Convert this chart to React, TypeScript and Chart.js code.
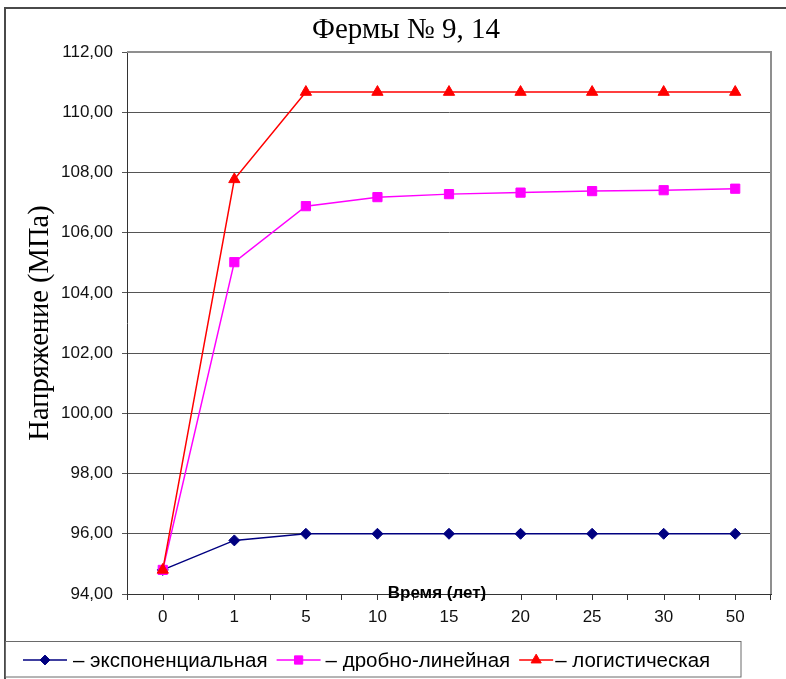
import React, { useEffect, useRef } from 'react';
import { Chart, registerables } from 'chart.js';
import { drawPoint } from 'chart.js/helpers';

Chart.register(...registerables);

const categories = ['0', '1', '5', '10', '15', '20', '25', '30', '50'];
const exponential = [94.8, 95.78, 96.0, 96.0, 96.0, 96.0, 96.0, 96.0, 96.0];
const fractionalLinear = [94.8, 105.02, 106.88, 107.18, 107.28, 107.33, 107.38, 107.41, 107.46];
const logistic = [94.8, 107.77, 110.67, 110.67, 110.67, 110.67, 110.67, 110.67, 110.67];
const seriesNames = ['– экспоненциальная', '– дробно-линейная', '– логистическая'];
const chartTitle = 'Фермы № 9, 14';
const yTitle = 'Напряжение (МПа)';
const xTitle = 'Время (лет)';
const yMin = 94;
const yMax = 112;
const yStep = 2;

const SANS = '"Liberation Sans", Arial, sans-serif';
const SERIF = '"Liberation Serif", "Times New Roman", serif';

// legend key geometry (line length, gap to text)
const legendKeyLen = [44, 44, 34];
const legendKeyGap = [6, 5, 2];

const decorPlugin = {
  id: 'decor',
  beforeDatasetsDraw(chart: any) {
    const { ctx, chartArea: a } = chart;
    ctx.save();
    ctx.strokeStyle = '#8f8f8f';
    ctx.lineWidth = 2;
    ctx.beginPath();
    ctx.moveTo(a.left, a.top);
    ctx.lineTo(a.right, a.top);
    ctx.lineTo(a.right, a.bottom);
    ctx.stroke();
    ctx.restore();
  },
  afterDraw(chart: any) {
    const { ctx, chartArea: a } = chart;
    const xs = chart.scales.x;
    ctx.save();
    // tick marks at category centres
    ctx.strokeStyle = '#333';
    ctx.lineWidth = 1;
    ctx.beginPath();
    for (let i = 0; i < categories.length; i++) {
      const px = Math.round(xs.getPixelForValue(i)) + 0.5;
      ctx.moveTo(px, a.bottom);
      ctx.lineTo(px, a.bottom + 6);
    }
    ctx.stroke();

    // x axis title (sits on the axis line)
    ctx.fillStyle = '#000';
    ctx.font = 'bold 17px ' + SANS;
    ctx.textAlign = 'center';
    ctx.textBaseline = 'middle';
    ctx.fillText(xTitle, 437, a.bottom - 1);

    // chart title
    ctx.font = '29px ' + SERIF;
    ctx.fillText(chartTitle, 406, 30);

    // outer frame
    ctx.strokeStyle = '#4a4a4a';
    ctx.lineWidth = 2;
    ctx.beginPath();
    ctx.moveTo(786, 8);
    ctx.lineTo(5, 8);
    ctx.lineTo(5, 679);
    ctx.stroke();

    // legend box
    ctx.strokeStyle = '#6a6a6a';
    ctx.lineWidth = 1;
    ctx.strokeRect(5.5, 641.5, 735.5, 35.5);

    // legend items
    const ly = 660;
    let x = 23;
    ctx.font = '20.5px ' + SANS;
    ctx.textAlign = 'left';
    chart.data.datasets.forEach((ds: any, i: number) => {
      const len = legendKeyLen[i];
      ctx.strokeStyle = ds.borderColor;
      ctx.lineWidth = 1.5;
      ctx.beginPath();
      ctx.moveTo(x, ly);
      ctx.lineTo(x + len, ly);
      ctx.stroke();
      ctx.fillStyle = ds.pointBackgroundColor;
      ctx.strokeStyle = ds.pointBorderColor;
      ctx.lineWidth = 1;
      drawPoint(ctx, { pointStyle: ds.pointStyle, radius: ds.pointRadius * 0.9, borderWidth: 1, rotation: 0 }, x + len / 2, ly);
      ctx.fillStyle = '#000';
      const tx = x + len + legendKeyGap[i];
      ctx.fillText(seriesNames[i], tx, ly + 1);
      x = tx + ctx.measureText(seriesNames[i]).width + 9;
    });
    ctx.restore();
  },
};

export default function App() {
  const ref = useRef<HTMLCanvasElement>(null);
  useEffect(() => {
    if (!ref.current) return;
    const mk = (label: string, data: number[], color: string, style: string, r: number, order: number) => ({
      label,
      data,
      borderColor: color,
      backgroundColor: color,
      pointBackgroundColor: color,
      pointBorderColor: color,
      pointStyle: style,
      pointRadius: r,
      pointBorderWidth: 1,
      borderWidth: 1.5,
      tension: 0,
      order,
    });
    const chart = new Chart(ref.current, {
      type: 'line',
      data: {
        labels: categories,
        datasets: [
          mk(seriesNames[0], exponential, '#000080', 'rectRot', 5.5, 3),
          mk(seriesNames[1], fractionalLinear, '#ff00ff', 'rect', 6.5, 2),
          mk(seriesNames[2], logistic, '#ff0000', 'triangle', 6.5, 1),
        ],
      },
      options: {
        responsive: false,
        animation: false,
        devicePixelRatio: 1,
        layout: { padding: { left: 5, right: 15, top: 52, bottom: 0 } },
        plugins: {
          legend: { display: false },
          title: { display: false },
          tooltip: { enabled: false },
        },
        scales: {
          x: {
            type: 'category',
            offset: true,
            grid: { offset: true, drawOnChartArea: false, tickLength: 6, color: '#333' },
            border: { color: '#333', width: 1 },
            ticks: {
              font: { family: SANS, size: 17 },
              color: '#111',
              padding: 7,
              maxRotation: 0,
              autoSkip: false,
            },
            afterFit(s: any) {
              s.height = 85;
            },
          },
          y: {
            min: yMin,
            max: yMax,
            ticks: {
              stepSize: yStep,
              font: { family: SANS, size: 17 },
              color: '#111',
              padding: 9,
              callback: (v: any) => Number(v).toFixed(2).replace('.', ','),
            },
            grid: { color: '#555', tickLength: 5 },
            border: { color: '#333', width: 1 },
            title: {
              display: true,
              text: yTitle,
              font: { family: SERIF, size: 28.5 },
              color: '#000',
              padding: { top: 18, bottom: 0 },
            },
            afterFit(s: any) {
              s.width = 122;
            },
          },
        },
      },
      plugins: [decorPlugin],
    } as any);
    return () => chart.destroy();
  }, []);
  return (
    <div style={{ position: 'absolute', left: 0, top: 0, width: 786, height: 679 }}>
      <canvas ref={ref} width={786} height={679} style={{ display: 'block' }} />
    </div>
  );
}
